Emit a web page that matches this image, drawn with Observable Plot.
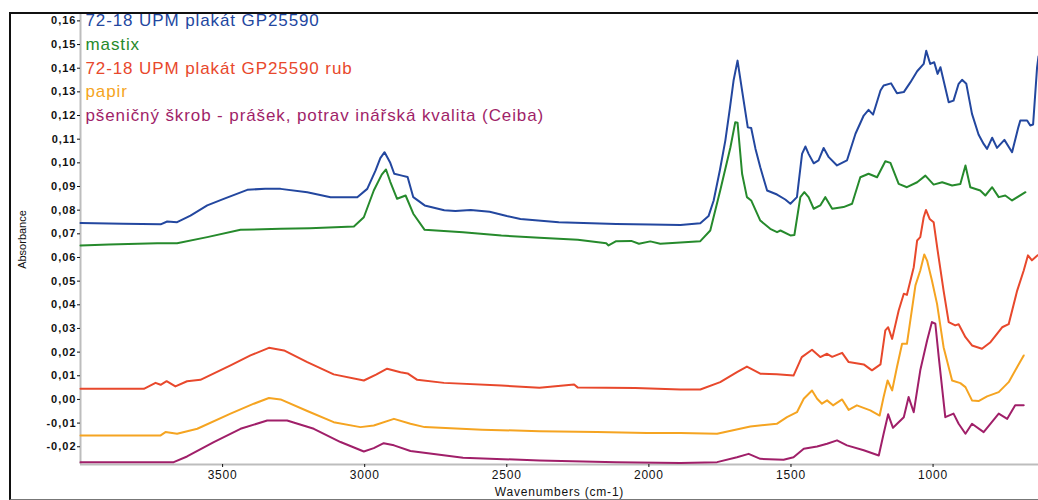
<!DOCTYPE html>
<html><head><meta charset="utf-8">
<script src="https://cdn.jsdelivr.net/npm/d3@7"></script>
<script src="https://cdn.jsdelivr.net/npm/@observablehq/plot@0.6"></script>
<style>
body{margin:0;background:#fff;}
#wrap{position:relative;width:1038px;height:500px;overflow:hidden;font-family:"Liberation Sans",Arial,sans-serif;}
#frame{position:absolute;left:9px;top:12px;width:1040px;height:485px;border-left:2px solid #111;border-top:2px solid #111;border-bottom:1px solid #777;pointer-events:none;}
#wrap svg{position:absolute;left:0;top:0;}
#wrap svg g[aria-label="text"] text{letter-spacing:0.9px;}
#wrap svg g[aria-label="y-axis tick label"] text{letter-spacing:1px;font-weight:bold;}
#wrap svg g[aria-label="x-axis tick label"] text{letter-spacing:0.8px;}
#wrap svg g[aria-label="x-axis label"] text{letter-spacing:0.8px;}
</style></head><body><div id="wrap"><div id="frame"></div></div>
<script>
const seriesNames = ["72-18 UPM plakát GP25590","mastix","72-18 UPM plakát GP25590 rub","papir","pšeničný škrob - prášek, potrav inářská kvalita (Ceiba)"];
const seriesColors = ["#23479f","#268a2c","#e8482c","#f5a421","#a01f69"];
const legendY = [0.16,0.15,0.14,0.13,0.12];
const xTicks = [3500,3000,2500,2000,1500,1000];
const yTicks = [-0.02,-0.01,0,0.01,0.02,0.03,0.04,0.05,0.06,0.07,0.08,0.09,0.10,0.11,0.12,0.13,0.14,0.15,0.16];

const blue = [[4000,0.0746],[3850,0.0743],[3718,0.0740],[3695,0.0752],[3660,0.0749],[3613,0.0777],[3554,0.0820],[3496,0.0848],[3413,0.0886],[3350,0.0891],[3296,0.0890],[3202,0.0876],[3120,0.0855],[3026,0.0855],[2991,0.0890],[2962,0.0967],[2945,0.1020],[2930,0.1045],[2910,0.1000],[2896,0.0954],[2869,0.0946],[2849,0.0940],[2829,0.0855],[2789,0.0820],[2720,0.0800],[2681,0.0796],[2627,0.0801],[2560,0.0793],[2500,0.0775],[2452,0.0763],[2317,0.0749],[2115,0.0742],[1995,0.0739],[1889,0.0737],[1819,0.0745],[1790,0.0775],[1772,0.0841],[1750,0.097],[1731,0.1094],[1715,0.123],[1702,0.1348],[1688,0.1432],[1672,0.1305],[1652,0.115],[1640,0.1147],[1625,0.106],[1608,0.0981],[1584,0.0883],[1549,0.0866],[1520,0.0845],[1502,0.0827],[1479,0.0855],[1461,0.1038],[1449,0.1069],[1438,0.1038],[1420,0.0998],[1403,0.101],[1385,0.1063],[1367,0.1024],[1338,0.0989],[1303,0.101],[1273,0.1123],[1244,0.12],[1227,0.1224],[1211,0.1204],[1185,0.1306],[1174,0.1327],[1148,0.1336],[1127,0.1294],[1103,0.1299],[1080,0.134],[1056,0.1387],[1033,0.1418],[1024,0.1474],[1010,0.1418],[996,0.1425],[984,0.1376],[974,0.1404],[963,0.1348],[945,0.1256],[928,0.1263],[910,0.1334],[898,0.1351],[883,0.1334],[863,0.1207],[840,0.112],[822,0.108],[810,0.1059],[792,0.1106],[775,0.1063],[749,0.1097],[722,0.1045],[700,0.115],[693,0.1179],[669,0.1179],[658,0.1158],[648,0.1162],[634,0.1404],[629,0.145]];
const green = [[4000,0.0651],[3900,0.0655],[3730,0.0660],[3660,0.0660],[3554,0.0686],[3437,0.0717],[3296,0.0721],[3193,0.0724],[3038,0.0731],[3003,0.0770],[2968,0.0883],[2940,0.0950],[2925,0.0972],[2910,0.0920],[2886,0.0848],[2856,0.0862],[2829,0.0785],[2789,0.0717],[2654,0.0707],[2519,0.0693],[2385,0.0683],[2250,0.0675],[2150,0.066],[2142,0.0651],[2115,0.0669],[2062,0.067],[2035,0.0658],[1995,0.0668],[1960,0.0658],[1889,0.0663],[1819,0.0669],[1784,0.0714],[1749,0.0883],[1713,0.1066],[1696,0.1172],[1688,0.117],[1672,0.0954],[1655,0.0855],[1640,0.0841],[1608,0.0756],[1573,0.0721],[1549,0.0707],[1537,0.0714],[1502,0.0693],[1488,0.0695],[1467,0.0855],[1453,0.0876],[1438,0.0855],[1420,0.0806],[1397,0.082],[1379,0.0855],[1355,0.0806],[1315,0.0813],[1285,0.0827],[1256,0.0939],[1227,0.0954],[1197,0.0939],[1168,0.1007],[1150,0.1],[1121,0.0911],[1092,0.0897],[1056,0.0918],[1027,0.0946],[998,0.0908],[968,0.0918],[933,0.0904],[904,0.0911],[886,0.0989],[869,0.0897],[834,0.0883],[816,0.0862],[792,0.0897],[769,0.0855],[746,0.0862],[722,0.0841],[675,0.0876]];
const red = [[4000,0.0045],[3777,0.0045],[3736,0.0070],[3718,0.0062],[3697,0.0077],[3666,0.0055],[3625,0.0077],[3578,0.0083],[3472,0.0144],[3402,0.0186],[3337,0.0218],[3284,0.0207],[3202,0.0158],[3109,0.0106],[3003,0.0080],[2960,0.0105],[2921,0.0130],[2874,0.0115],[2849,0.0110],[2815,0.0083],[2721,0.007],[2519,0.0059],[2385,0.0049],[2263,0.0063],[2250,0.005],[2048,0.0048],[1889,0.0042],[1819,0.0042],[1749,0.0073],[1690,0.0115],[1655,0.0139],[1608,0.0109],[1550,0.0106],[1491,0.0101],[1462,0.0179],[1426,0.021],[1397,0.0179],[1373,0.0193],[1355,0.018],[1320,0.0197],[1297,0.0158],[1244,0.0148],[1215,0.0123],[1185,0.0148],[1168,0.0292],[1158,0.0305],[1144,0.0256],[1121,0.0376],[1103,0.0447],[1092,0.0442],[1068,0.0559],[1056,0.0672],[1045,0.0686],[1033,0.077],[1025,0.0801],[1012,0.0763],[998,0.0749],[984,0.063],[963,0.046],[945,0.0327],[922,0.0313],[910,0.0318],[886,0.0263],[863,0.0228],[828,0.0214],[798,0.0242],[757,0.0305],[734,0.0318],[704,0.046],[681,0.0545],[666,0.0609],[652,0.0588],[632,0.0609]];
const orange = [[4000,-0.0152],[3718,-0.0152],[3701,-0.0138],[3660,-0.0145],[3589,-0.0124],[3472,-0.0060],[3390,-0.0018],[3337,0.0006],[3296,0.0000],[3202,-0.0049],[3109,-0.0096],[3015,-0.0117],[2968,-0.0110],[2897,-0.0082],[2839,-0.0103],[2789,-0.0117],[2587,-0.0128],[2385,-0.0134],[2183,-0.0138],[2007,-0.0142],[1889,-0.0142],[1760,-0.0145],[1643,-0.0114],[1550,-0.0103],[1514,-0.0075],[1479,-0.0054],[1455,0.0003],[1426,0.0038],[1408,0.0003],[1391,-0.0018],[1373,-0.0004],[1352,-0.0025],[1320,0.0],[1297,-0.0044],[1268,-0.0025],[1221,-0.0046],[1188,-0.0068],[1174,0.001],[1160,0.008],[1144,0.0038],[1127,0.0137],[1109,0.0235],[1092,0.0235],[1062,0.0482],[1045,0.0545],[1031,0.0613],[1021,0.0587],[1004,0.0503],[986,0.0404],[963,0.0221],[933,0.008],[904,0.0069],[886,0.0052],[863,-0.0004],[840,-0.0007],[810,0.0013],[769,0.0031],[734,0.0073],[704,0.0137],[681,0.0186]];
const purple = [[4000,-0.0265],[3672,-0.0265],[3625,-0.0241],[3531,-0.0180],[3437,-0.0124],[3343,-0.0089],[3273,-0.0089],[3179,-0.0124],[3085,-0.0180],[3003,-0.0220],[2968,-0.0206],[2933,-0.0185],[2897,-0.0194],[2839,-0.0218],[2654,-0.0246],[2385,-0.0258],[2115,-0.0265],[1889,-0.0269],[1760,-0.0265],[1690,-0.0244],[1649,-0.023],[1608,-0.0251],[1526,-0.0255],[1491,-0.0244],[1455,-0.0208],[1408,-0.0199],[1373,-0.0187],[1338,-0.0173],[1303,-0.0194],[1244,-0.0215],[1191,-0.0237],[1174,-0.0145],[1158,-0.0063],[1141,-0.012],[1103,-0.0075],[1086,0.001],[1068,-0.0054],[1045,0.0123],[1021,0.0249],[1004,0.0327],[992,0.032],[980,0.0179],[957,-0.0075],[928,-0.006],[910,-0.0103],[886,-0.0145],[863,-0.0103],[822,-0.0138],[769,-0.006],[739,-0.0082],[711,-0.0025],[681,-0.0025]];

const spectra = [blue, green, red, orange, purple];
const xDomain = [4000, 629];
const yDomain = [-0.0275, 0.1627];
const fmtY = d => d.toFixed(2).replace(".", ",");

const lineMarks = spectra.map((s, i) =>
  Plot.line(s, {x: d => d[0], y: d => d[1], stroke: seriesColors[i], strokeWidth: 2, strokeLinejoin: "round"})
);
const legendMarks = seriesNames.map((n, i) =>
  Plot.text([n], {x: xDomain[0], y: legendY[i], text: d => d, fill: seriesColors[i], textAnchor: "start", dx: 5, fontSize: 17})
);

const chart = Plot.plot({
  width: 1038, height: 500,
  marginLeft: 80, marginRight: 0, marginTop: 14, marginBottom: 36,
  style: {fontFamily: '"Liberation Sans", Arial, sans-serif', fontSize: "11px", color: "#111", background: "transparent", overflow: "visible"},
  x: {domain: xDomain},
  y: {domain: yDomain},
  marks: [
    Plot.ruleX([xDomain[0]], {stroke: "#bdbdbd", strokeWidth: 2}),
    Plot.ruleY([yDomain[0]], {stroke: "#bdbdbd", strokeWidth: 2}),
    Plot.axisX({ticks: xTicks, tickSize: 3, tickPadding: 3, tickFormat: d => String(d), fontSize: 12,
      label: "Wavenumbers (cm-1)", labelAnchor: "center", labelOffset: 31, labelArrow: "none"}),
    Plot.axisY({ticks: yTicks, tickSize: 3, tickPadding: 1, tickFormat: fmtY, fontSize: 11,
      label: "Absorbance", labelAnchor: "center", labelOffset: 62, labelArrow: "none"}),
    ...lineMarks,
    ...legendMarks
  ]
});
document.getElementById("wrap").appendChild(chart);
</script></body></html>
